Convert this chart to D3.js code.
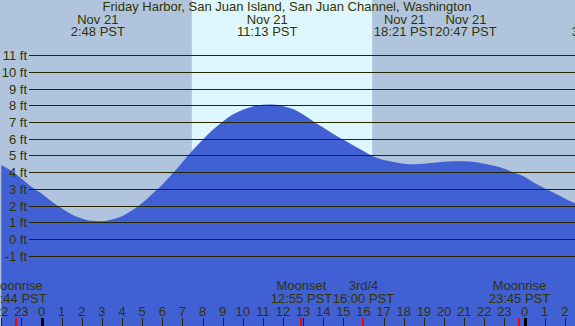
<!DOCTYPE html>
<html>
<head>
<meta charset="utf-8">
<script src="https://cdn.jsdelivr.net/npm/d3@7"></script>
<style>
  html, body { margin: 0; padding: 0; background: #b0c4de; }
  svg { display: block; }
  text { font-family: "Liberation Sans", Arial, sans-serif; font-size: 13px; fill: #333300; }
</style>
</head>
<body>
<svg id="chart" width="575" height="326"></svg>
<script>
const title = 'Friday Harbor, San Juan Island, San Juan Channel, Washington';

// tide height (ft), every half hour (hour 0 = midnight Nov 21)
const tideHours = [-2, -1.5, -1, -0.5, 0, 0.5, 1, 1.5, 2, 2.5, 3, 3.5, 4, 4.5, 5, 5.5, 6, 6.5,
  7, 7.5, 8, 8.5, 9, 9.5, 10, 10.5, 11, 11.5, 12, 12.5, 13, 13.5, 14, 14.5, 15, 15.5, 16, 16.5,
  17, 17.5, 18, 18.5, 19, 19.5, 20, 20.5, 21, 21.5, 22, 22.5, 23, 23.5, 24, 24.5, 25, 25.5, 26, 26.5, 27];
const tideFeet = [4.43, 4.09, 3.63, 3.13, 2.72, 2.25, 1.84, 1.47, 1.23, 1.09, 1.07, 1.17, 1.36, 1.70,
  2.15, 2.70, 3.25, 3.90, 4.60, 5.30, 5.93, 6.52, 7.02, 7.45, 7.74, 7.94, 8.04, 8.05, 7.95, 7.78,
  7.45, 7.05, 6.67, 6.28, 5.94, 5.60, 5.27, 4.94, 4.73, 4.61, 4.51, 4.47, 4.50, 4.57, 4.62, 4.66,
  4.66, 4.61, 4.50, 4.38, 4.21, 3.96, 3.73, 3.36, 3.04, 2.74, 2.43, 2.15, 1.90];

// high / low tide labels along the top
const extremeHours = [2.8, 11.217, 18.35, 20.783, 27.7];
const extremeDates = ['Nov 21', 'Nov 21', 'Nov 21', 'Nov 21', 'Nov 22'];
const extremeTimes = ['2:48 PST', '11:13 PST', '18:21 PST', '20:47 PST', '3:42 PST'];

// moon events along the bottom
const moonHours = [-1.267, 12.917, 16, 23.75];
const moonNames = ['Moonrise', 'Moonset', '3rd/4', 'Moonrise'];
const moonTimes = ['22:44 PST', '12:55 PST', '16:00 PST', '23:45 PST'];

// daylight
const sunrise = 7.47;
const sunset = 16.43;

const feetTicks = [-1, 0, 1, 2, 3, 4, 5, 6, 7, 8, 9, 10, 11];
const hourTicks = d3.range(-2, 27);

const width = 575, height = 326;
const svg = d3.select('#chart');

const x = d3.scaleLinear().domain([0, 24]).range([41.5, 524.5]);
const y = d3.scaleLinear().domain([0, 11]).range([239, 55.3]);

// background: night then day band
svg.append('rect').attr('x', 0).attr('y', 0).attr('width', width).attr('height', height)
  .attr('fill', '#b0c4de');
svg.append('rect')
  .attr('x', x(sunrise)).attr('y', 0)
  .attr('width', x(sunset) - x(sunrise)).attr('height', height)
  .attr('fill', '#def7fe');

// water
const tide = tideHours.map((h, i) => ({ h: h, v: tideFeet[i] }));
const area = d3.area()
  .x(d => x(d.h))
  .y0(height)
  .y1(d => y(d.v))
  .curve(d3.curveMonotoneX);
svg.append('path').datum(tide)
  .attr('fill', '#4160d4')
  .attr('d', area);

// grid lines + ft labels
const grid = svg.append('g');
grid.selectAll('line').data(feetTicks).enter().append('line')
  .attr('x1', 29).attr('x2', width)
  .attr('y1', d => Math.round(y(d)) + 0.5).attr('y2', d => Math.round(y(d)) + 0.5)
  .attr('stroke', '#262600').attr('stroke-width', 1);
grid.selectAll('text').data(feetTicks).enter().append('text')
  .attr('x', 27).attr('y', d => Math.round(y(d)) + 5)
  .attr('text-anchor', 'end')
  .text(d => d + ' ft');

// title
svg.append('text').attr('x', 287).attr('y', 11).attr('text-anchor', 'middle').text(title);

// tide extremes: centred on their time, pushed apart when they would overlap
const ext = svg.append('g');
const extLabels = extremeHours.map((h, i) => {
  const t = ext.append('text').attr('text-anchor', 'middle').attr('y', 36).text(extremeTimes[i]);
  return { cx: x(h), w: t.node().getComputedTextLength(), node: t, i: i };
});
for (let k = 1; k < extLabels.length; k++) {
  const a = extLabels[k - 1], b = extLabels[k];
  const overlap = (a.cx + a.w / 2) - (b.cx - b.w / 2);
  if (overlap > 0) { a.cx -= overlap / 2; b.cx += overlap / 2; }
}
extLabels.forEach(l => {
  l.node.attr('x', l.cx);
  ext.append('text').attr('x', l.cx).attr('y', 24).attr('text-anchor', 'middle').text(extremeDates[l.i]);
});

// hour ticks
const hrs = svg.append('g');
hrs.selectAll('line').data(hourTicks).enter().append('line')
  .attr('x1', d => Math.round(x(d)) + 0.5).attr('x2', d => Math.round(x(d)) + 0.5)
  .attr('y1', 318).attr('y2', height)
  .attr('stroke', d => (d % 24 === 0 ? '#000000' : '#262600'))
  .attr('stroke-width', d => (d % 24 === 0 ? 3 : 1));
hrs.selectAll('text').data(hourTicks).enter().append('text')
  .attr('x', d => x(d)).attr('y', 316)
  .attr('text-anchor', 'middle')
  .text(d => ((d % 24) + 24) % 24);

// moon events
const moon = svg.append('g');
moonHours.forEach((h, i) => {
  moon.append('line')
    .attr('x1', Math.round(x(h))).attr('x2', Math.round(x(h)))
    .attr('y1', 318).attr('y2', height)
    .attr('stroke', '#ff0000').attr('stroke-width', 2);
  moon.append('text').attr('x', x(h)).attr('y', 290).attr('text-anchor', 'middle').text(moonNames[i]);
  moon.append('text').attr('x', x(h)).attr('y', 303).attr('text-anchor', 'middle').text(moonTimes[i]);
});
</script>
</body>
</html>
